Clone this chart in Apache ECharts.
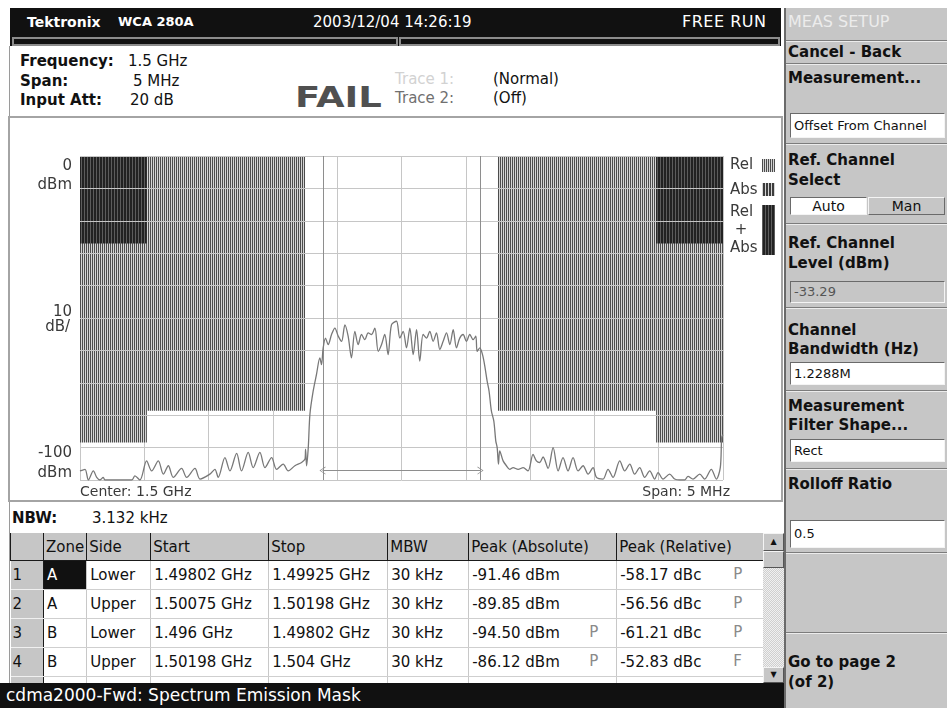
<!DOCTYPE html>
<html>
<head>
<meta charset="utf-8">
<title>cdma2000-Fwd: Spectrum Emission Mask</title>
<script src="https://cdn.jsdelivr.net/npm/echarts@6.0.0/dist/echarts.min.js"></script>
<style>
    body { margin: 0; width: 947px; height: 708px; position: relative; overflow: hidden; background: #fff; font-family: "DejaVu Sans", sans-serif; color: #111; }
    .t { position: absolute; white-space: nowrap; line-height: 20px; height: 20px; font-size: 15px; }
    .b { font-weight: bold; }
    .hdr { position: absolute; left: 10px; top: 8px; width: 771px; height: 38px; background: #111; }
    .strip { position: absolute; top: 37px; height: 9px; box-sizing: border-box; border: 2px solid #8c8c8c; background: #111; }
    .frame { position: absolute; left: 9px; top: 46px; width: 0; height: 637px; border-left: 1px solid #9a9a9a; }
    .box { position: absolute; left: 8px; top: 116px; width: 775px; height: 386px; box-sizing: border-box; border: 2px solid #a4a4a4; }
    #chart { position: absolute; left: 10px; top: 118px; width: 771px; height: 382px; }
    .panel { position: absolute; left: 784px; top: 8px; width: 163px; height: 700px; background: #c6c6c6; border-left: 2px solid #6a6a6a; box-sizing: border-box; }
    .sep { position: absolute; left: 786px; width: 161px; height: 0; border-top: 1px solid #7c7c7c; border-bottom: 1px solid #ececec; }
    .pbox { position: absolute; left: 790px; width: 155px; box-sizing: border-box; background: #fff; border: 1px solid; border-color: #6a6a6a #f4f4f4 #f4f4f4 #6a6a6a; font-size: 13px; padding-left: 3px; white-space: nowrap; }
    table.grid { position: absolute; left: 10px; top: 533px; border-collapse: collapse; table-layout: fixed; font-size: 15px; }
    table.grid th { height: 27px; background: #c6c6c6; font-weight: normal; text-align: left; padding: 0 2px; border-left: 1px solid #1a1a1a; border-bottom: 1px solid #1a1a1a; white-space: nowrap; }
    table.grid td { height: 28px; padding: 0 3px; border-left: 1px solid #c8c8c8; border-bottom: 1px solid #cfcfcf; white-space: nowrap; position: relative; }
    table.grid td.n { background: #c6c6c6; border-bottom: 1px solid #f0f0f0; border-left: none; padding-left: 2px; }
    table.grid td.z { border-left: 1px solid #1a1a1a; }
    table.grid td.sel { background: #111; color: #fff; }
    .flag { position: absolute; top: 4px; color: #8a8a8a; }
    .scroll { position: absolute; left: 763px; top: 533px; width: 21px; height: 150px; background: repeating-conic-gradient(#cfcfcf 0 25%, #f0f0f0 0 50%) 0 0/2px 2px; }
    .sbtn { position: absolute; left: 0; width: 21px; box-sizing: border-box; background: #c6c6c6; border: 1px solid; border-color: #f4f4f4 #555 #555 #f4f4f4; font-size: 8px; text-align: center; color: #111; }
    .status { position: absolute; left: 0; top: 683px; width: 784px; height: 25px; background: #111; color: #fff; font-size: 17px; line-height: 25px; padding-left: 6px; box-sizing: border-box; white-space: nowrap; }
</style>
</head>
<body>
<div class="hdr"></div>
<div class="t b" style="left:27px;top:12px;font-size:14px;color:#fff">Tektronix</div>
<div class="t b" style="left:118px;top:12px;font-size:13px;color:#fff">WCA 280A</div>
<div class="t" style="left:313px;top:12px;color:#fff">2003/12/04 14:26:19</div>
<div class="t" style="left:682px;top:12px;color:#fff;font-size:16px;letter-spacing:0.5px">FREE RUN</div>
<div class="strip" style="left:12px;width:386px"></div>
<div class="strip" style="left:399px;width:381px"></div>
<div class="frame"></div>

<div class="t b" style="left:20px;top:51px">Frequency:</div>
<div class="t" style="left:128px;top:51px">1.5 GHz</div>
<div class="t b" style="left:20px;top:71px">Span:</div>
<div class="t" style="left:133px;top:71px">5 MHz</div>
<div class="t b" style="left:20px;top:90px">Input Att:</div>
<div class="t" style="left:130px;top:90px">20 dB</div>
<div class="t b" style="left:295px;top:83px;height:30px;line-height:30px;font-size:28px;color:#505050;transform:scaleX(1.32);transform-origin:0 0">FAIL</div>
<div class="t" style="left:395px;top:69px;color:#d2d2d2">Trace 1:</div>
<div class="t" style="left:493px;top:69px">(Normal)</div>
<div class="t" style="left:395px;top:88px;color:#707070">Trace 2:</div>
<div class="t" style="left:493px;top:88px">(Off)</div>

<div class="box"></div>
<div id="chart"></div>

<div class="t b" style="left:12px;top:508px">NBW:</div>
<div class="t" style="left:92px;top:508px">3.132 kHz</div>
<table class="grid" id="tbl"></table>
<div class="scroll">
    <div class="sbtn" style="top:0;height:18px;line-height:16px">&#9650;</div>
    <div class="sbtn" style="top:18px;height:17px"></div>
    <div class="sbtn" style="top:134px;height:16px;line-height:14px">&#9660;</div>
</div>
<div class="status">cdma2000-Fwd: Spectrum Emission Mask</div>

<div class="panel"></div>
<div class="t" style="left:788px;top:12px;color:#ececec;font-size:16px">MEAS SETUP</div>
<div class="sep" style="top:40px"></div>
<div class="t b" style="left:788px;top:42px">Cancel - Back</div>
<div class="sep" style="top:63px"></div>
<div class="t b" style="left:788px;top:68px">Measurement...</div>
<div class="pbox" style="top:113px;height:25px;line-height:23px">Offset From Channel</div>
<div class="sep" style="top:143px"></div>
<div class="t b" style="left:788px;top:150px">Ref. Channel</div>
<div class="t b" style="left:788px;top:170px">Select</div>
<div class="pbox" style="top:197px;height:18px;line-height:16px;width:77px;text-align:center;font-size:14px;padding:0">Auto</div>
<div class="pbox" style="top:197px;height:18px;line-height:16px;left:868px;width:77px;text-align:center;font-size:14px;padding:0;background:#c6c6c6;border-color:#f4f4f4 #6a6a6a #6a6a6a #f4f4f4">Man</div>
<div class="sep" style="top:223px"></div>
<div class="t b" style="left:788px;top:233px">Ref. Channel</div>
<div class="t b" style="left:788px;top:253px">Level (dBm)</div>
<div class="pbox" style="top:281px;height:22px;line-height:20px;background:#c6c6c6;color:#555">-33.29</div>
<div class="sep" style="top:307px"></div>
<div class="t b" style="left:788px;top:320px">Channel</div>
<div class="t b" style="left:788px;top:339px">Bandwidth (Hz)</div>
<div class="pbox" style="top:362px;height:23px;line-height:21px">1.2288M</div>
<div class="sep" style="top:390px"></div>
<div class="t b" style="left:788px;top:396px">Measurement</div>
<div class="t b" style="left:788px;top:415px">Filter Shape...</div>
<div class="pbox" style="top:439px;height:23px;line-height:21px">Rect</div>
<div class="sep" style="top:468px"></div>
<div class="t b" style="left:788px;top:474px">Rolloff Ratio</div>
<div class="pbox" style="top:520px;height:28px;line-height:26px">0.5</div>
<div class="sep" style="top:552px"></div>
<div class="sep" style="top:632px"></div>
<div class="t b" style="left:788px;top:652px">Go to page 2</div>
<div class="t b" style="left:788px;top:672px">(of 2)</div>

<script>
// mask zones, offset from 1.5 GHz in MHz
const zoneStart = [-2.5, -1.98, 0.75, 1.98]
const zoneEnd = [-1.98, -0.75, 1.98, 2.5]
const zoneLimit = [-88.4, -78.6, -78.6, -88.4]
const zoneBoth = [-27, null, null, -27]
const chanEdge = [-0.6144, 0.6144]
const arrowLevel = -97.1

// measured trace: frequency offset (MHz) and level (dBm)
const traceFreq = [
    -2.5, -2.461, -2.435, -2.396, -2.37, -2.345, -2.319, -2.306, -2.098, -2.073, -2.034,
    -1.982, -1.943, -1.891, -1.852, -1.813, -1.775, -1.71, -1.671, -1.606, -1.567,
    -1.49, -1.451, -1.425, -1.373, -1.334, -1.282, -1.244, -1.192, -1.153, -1.101,
    -1.062, -1.01, -0.972, -0.92, -0.881, -0.829, -0.777, -0.75, -0.746, -0.738,
    -0.725, -0.712, -0.687, -0.661, -0.635, -0.622, -0.609, -0.591, -0.57, -0.544,
    -0.518, -0.492, -0.466, -0.44, -0.415, -0.389, -0.363, -0.337, -0.311, -0.285,
    -0.259, -0.233, -0.207, -0.181, -0.155, -0.13, -0.104, -0.078, -0.039,
    -0.013, 0.013, 0.039, 0.065, 0.091, 0.117, 0.142, 0.168, 0.194, 0.22,
    0.246, 0.272, 0.298, 0.324, 0.35, 0.376, 0.402, 0.427, 0.453, 0.479,
    0.505, 0.531, 0.557, 0.578, 0.588, 0.609, 0.63, 0.648, 0.666, 0.681,
    0.699, 0.718, 0.733, 0.744, 0.754, 0.764, 0.79, 0.816, 0.842, 0.868,
    0.907, 0.946, 0.984, 1.023, 1.049, 1.075, 1.101, 1.14, 1.179, 1.218,
    1.256, 1.295, 1.334, 1.373, 1.412, 1.451, 1.49, 1.516, 1.567, 1.606,
    1.645, 1.697, 1.736, 1.775, 1.813, 1.852, 1.891, 1.93, 1.969, 1.995,
    2.034, 2.085, 2.124, 2.163, 2.202, 2.228, 2.267, 2.319, 2.358, 2.409,
    2.448, 2.479, 2.49, 2.5
]
const traceLevel = [
    -97.2, -96.7, -100, -97.2, -99.2, -100, -99.2, -100, -100, -98.7, -100,
    -94.1, -97.2, -94.1, -98.2, -95.6, -99.2, -96.4, -99.2, -96.4, -99.7,
    -98.2, -96.7, -99.2, -93.1, -97.2, -91.8, -97.2, -91.5, -96.2, -91.5,
    -96.2, -93.1, -96.7, -95.1, -97.2, -95.6, -94.6, -93.5, -90.5, -95.6,
    -90.0, -79.7, -72.6, -67.4, -62.3, -64.4, -59.2, -56.2, -58.2, -55.1,
    -53.1, -55.6, -57.2, -52.1, -55.6, -62.3, -54.1, -58.2, -55.1, -56.7,
    -54.6, -55.1, -53.1, -60.3, -58.2, -55.1, -61.3, -52.1, -51.0,
    -56.2, -54.1, -59.2, -53.1, -61.3, -53.6, -63.3, -55.1, -56.2, -54.1,
    -57.2, -54.6, -59.7, -57.2, -54.6, -58.2, -53.6, -59.2, -56.2, -55.1,
    -57.2, -55.1, -56.7, -55.6, -60.3, -59.2, -61.3, -64.9, -69.5, -72.6,
    -78.7, -81.8, -87.9, -90.0, -95.1, -91.0, -94.1, -95.6, -96.7, -96.2,
    -96.7, -96.2, -97.2, -92.1, -94.1, -94.6, -92.9, -96.4, -90.0, -97.2,
    -93.1, -97.2, -93.1, -97.2, -95.6, -98.2, -96.2, -99.2, -99.7, -96.7,
    -99.2, -94.1, -97.2, -95.1, -98.2, -96.2, -99.2, -97.2, -99.7, -97.7,
    -99.7, -98.2, -99.7, -100, -100, -98.9, -99.7, -98.2, -99.7, -96.7,
    -99.7, -96.2, -86.9, -86.0
]

// result table
const rowNo = ['1', '2', '3', '4']
const zones = ['A', 'A', 'B', 'B']
const sides = ['Lower', 'Upper', 'Lower', 'Upper']
const starts = ['1.49802 GHz', '1.50075 GHz', '1.496 GHz', '1.50198 GHz']
const stops = ['1.49925 GHz', '1.50198 GHz', '1.49802 GHz', '1.504 GHz']
const mbw = ['30 kHz', '30 kHz', '30 kHz', '30 kHz']
const peakAbs = ['-91.46 dBm', '-89.85 dBm', '-94.50 dBm', '-86.12 dBm']
const peakAbsFlag = ['', '', 'P', 'P']
const peakRel = ['-58.17 dBc', '-56.56 dBc', '-61.21 dBc', '-52.83 dBc']
const peakRelFlag = ['P', 'P', 'P', 'F']
const colWidths = [33, 43, 64, 118, 119, 81, 148, 147]
const headers = ['', 'Zone', 'Side', 'Start', 'Stop', 'MBW', 'Peak (Absolute)', 'Peak (Relative)']

let html = '<colgroup>' + colWidths.map(w => '<col style="width:' + w + 'px">').join('') + '</colgroup>'
html += '<tr>' + headers.map(h => '<th>' + h + '</th>').join('') + '</tr>'
for (let i = 0; i < rowNo.length; i++) {
    html += '<tr>' +
        '<td class="n">' + rowNo[i] + '</td>' +
        '<td class="z' + (i === 0 ? ' sel' : '') + '">' + zones[i] + '</td>' +
        '<td>' + sides[i] + '</td>' +
        '<td>' + starts[i] + '</td>' +
        '<td>' + stops[i] + '</td>' +
        '<td>' + mbw[i] + '</td>' +
        '<td>' + peakAbs[i] + '<span class="flag" style="left:120px">' + peakAbsFlag[i] + '</span></td>' +
        '<td>' + peakRel[i] + '<span class="flag" style="left:116px">' + peakRelFlag[i] + '</span></td>' +
        '</tr>'
}
html += '<tr><td class="n"></td><td class="z"></td><td></td><td></td><td></td><td></td><td></td><td></td></tr>'
document.getElementById('tbl').innerHTML = html

// vertical stripe fills for the mask
function stripes(colors) {
    let c = document.createElement('canvas')
    c.width = colors.length
    c.height = 1
    let g = c.getContext('2d')
    colors.forEach((col, i) => {
        g.fillStyle = col
        g.fillRect(i, 0, 1, 1)
    })
    return {image: c, repeat: 'repeat'}
}
const relFill = stripes(['#4c4c4c', '#d4d4d4'])
const absFill = stripes(['#3c3c3c', '#3c3c3c', '#d4d4d4'])
const bothFill = stripes(['#222222', '#222222', '#5c5c5c'])

let myChart = echarts.init(document.getElementById('chart'))
const labelColor = '#3a3a3a'

function txt(text, x, y, align, size) {
    return {
        type: 'text', x: x, y: y, z: 10,
        style: {text: text, font: (size || 15) + 'px "DejaVu Sans"', fill: labelColor, align: align, verticalAlign: 'middle'}
    }
}

let option = {
    animation: false,
    grid: {left: 70, top: 38, width: 643, height: 324},
    // vertical grid lines sit under the mask, horizontal ones over it
    xAxis: {
        type: 'value', min: -2.5, max: 2.5, interval: 0.5, z: 0,
        axisLine: {show: false}, axisTick: {show: false}, axisLabel: {show: false},
        splitLine: {show: true, lineStyle: {color: '#c6c6c6', width: 1}}
    },
    yAxis: {
        type: 'value', min: -100, max: 0, interval: 10, z: 3,
        axisLine: {show: false}, axisTick: {show: false}, axisLabel: {show: false},
        splitLine: {show: true, lineStyle: {color: '#c6c6c6', width: 1}}
    },
    series: [
        {
            name: 'mask',
            type: 'custom',
            z: 1,
            silent: true,
            data: zoneStart.map((s, i) => [s, zoneEnd[i], zoneLimit[i]]),
            renderItem: function (params, api) {
                let p0 = api.coord([api.value(0), 0])
                let p1 = api.coord([api.value(1), api.value(2)])
                let children = [{
                    type: 'rect',
                    shape: {x: p0[0], y: p0[1], width: p1[0] - p0[0], height: p1[1] - p0[1]},
                    style: {fill: relFill}
                }]
                let both = zoneBoth[params.dataIndex]
                if (both !== null) {
                    let p2 = api.coord([api.value(1), both])
                    children.push({
                        type: 'rect',
                        shape: {x: p0[0], y: p0[1], width: p2[0] - p0[0], height: p2[1] - p0[1]},
                        style: {fill: bothFill}
                    })
                }
                return {type: 'group', children: children}
            }
        },
        {
            name: 'markers',
            type: 'line',
            z: 4,
            data: [],
            markLine: {
                silent: true,
                animation: false,
                symbol: 'none',
                label: {show: false},
                lineStyle: {color: '#8e8e8e', width: 1, type: 'solid'},
                data: [
                    {xAxis: chanEdge[0]},
                    {xAxis: chanEdge[1]},
                    [
                        {coord: [chanEdge[0], arrowLevel], symbol: 'path://M5,0L10,10L9,10L5,2L1,10L0,10Z', symbolSize: [8, 6]},
                        {coord: [chanEdge[1], arrowLevel], symbol: 'path://M5,0L10,10L9,10L5,2L1,10L0,10Z', symbolSize: [8, 6]}
                    ]
                ]
            }
        },
        {
            name: 'trace',
            type: 'line',
            z: 5,
            showSymbol: false,
            smooth: 0.3,
            lineStyle: {color: '#787878', width: 1.3},
            data: traceFreq.map((f, i) => [f, traceLevel[i]])
        }
    ],
    graphic: [
        txt('0', 62, 48, 'right'),
        txt('dBm', 62, 67, 'right'),
        txt('10', 62, 194, 'right'),
        txt('dB/', 60, 209, 'right'),
        txt('-100', 62, 335, 'right'),
        txt('dBm', 62, 355, 'right'),
        txt('Center: 1.5 GHz', 70, 374, 'left', 14),
        txt('Span: 5 MHz', 720, 374, 'right', 14),
        txt('Rel', 720, 47, 'left'),
        txt('Abs', 720, 72, 'left'),
        txt('Rel', 720, 94, 'left'),
        txt('+', 731, 112, 'center'),
        txt('Abs', 720, 130, 'left'),
        {type: 'rect', shape: {x: 752, y: 41, width: 13, height: 13}, style: {fill: relFill}},
        {type: 'rect', shape: {x: 752, y: 65, width: 13, height: 13}, style: {fill: absFill}},
        {type: 'rect', shape: {x: 752, y: 87, width: 13, height: 50}, style: {fill: bothFill}}
    ]
}
myChart.setOption(option)
</script>
</body>
</html>
